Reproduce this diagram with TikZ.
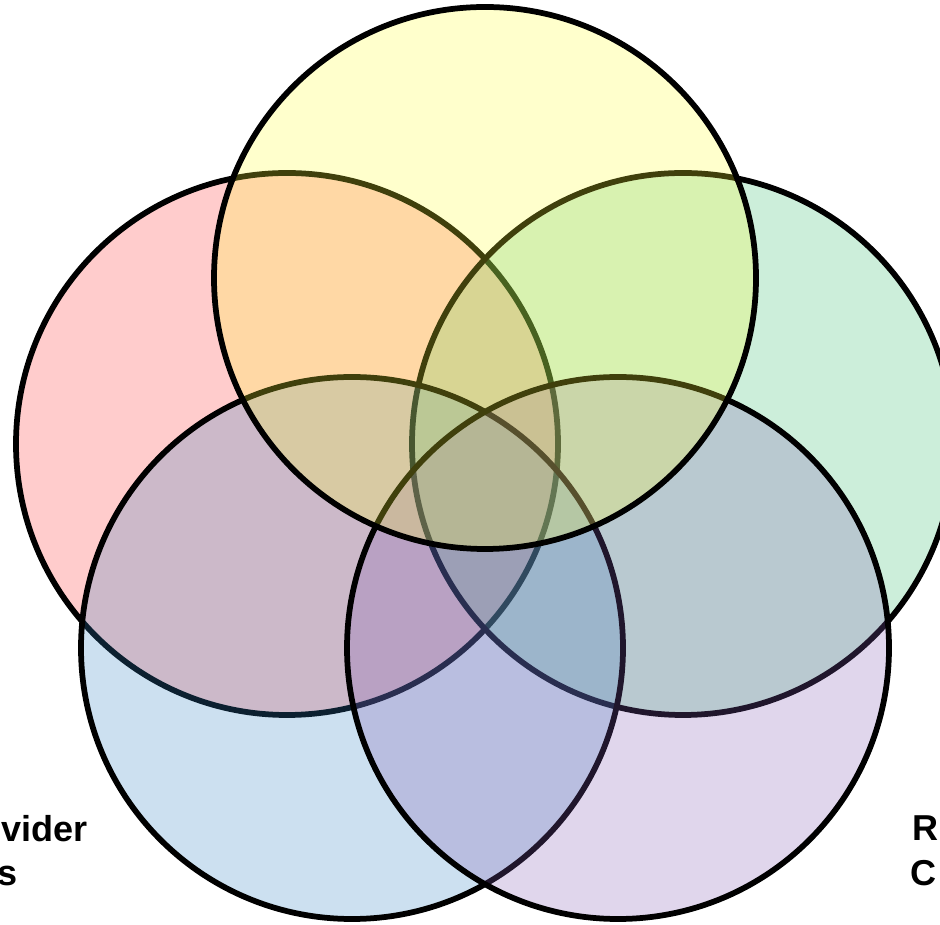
\documentclass[tikz,border=0pt]{standalone}
\usepackage{fontspec}
\setmainfont{Liberation Sans}
\usepackage{xcolor}
\usepackage{tikz}
\definecolor{pinkset}{RGB}{255, 51, 51}
\definecolor{greenset}{RGB}{51, 187, 107}
\definecolor{blueset}{RGB}{51, 131, 195}
\definecolor{purpleset}{RGB}{131, 91, 179}
\definecolor{yellowset}{RGB}{255, 255, 51}

\begin{document}
\begin{tikzpicture}[setcircle/.style={draw=black, line width=1.15mm, fill opacity=0.25, draw opacity=1},
  setlabel/.style={font=\fontsize{20.5}{25}\selectfont\bfseries, inner sep=0pt}]
\useasboundingbox (0,0) rectangle (18.8,18.48);
\clip (0,0) rectangle (18.8,18.48);
\draw[setcircle, fill=pinkset] (5.74,9.60) circle (5.42);
\draw[setcircle, fill=greenset] (13.66,9.60) circle (5.42);
\draw[setcircle, fill=blueset] (7.04,5.52) circle (5.42);
\draw[setcircle, fill=purpleset] (12.36,5.52) circle (5.42);
\draw[setcircle, fill=yellowset] (9.70,12.92) circle (5.42);
% labels cut by the frame
\node[setlabel, anchor=base east] (leftone) at (1.76,1.64) {vider};
\node[setlabel, anchor=base east] (lefttwo) at (0.36,0.78) {s};
\node[setlabel, anchor=base west] (rightone) at (18.24,1.66) {R};
\node[setlabel, anchor=base west] (righttwo) at (18.20,0.78) {C};
\end{tikzpicture}
\end{document}
